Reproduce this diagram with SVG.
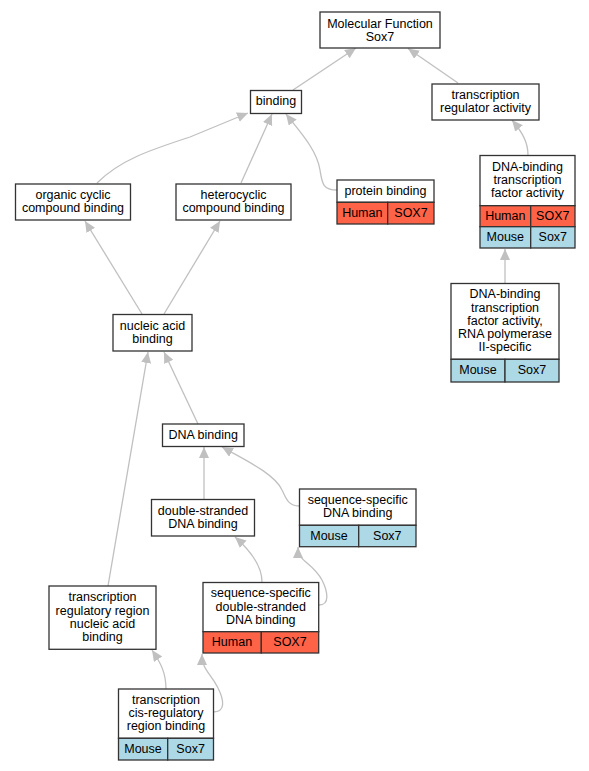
<svg xmlns="http://www.w3.org/2000/svg" width="589" height="771" viewBox="0 0 589 771">
<style>
.n{fill:#fff;stroke:#333;stroke-width:1.3}
.h{fill:#ff6347;stroke:#333;stroke-width:1.3}
.m{fill:#add8e6;stroke:#333;stroke-width:1.3}
text{font-family:"Liberation Sans",Arial,sans-serif;font-size:12.5px;text-anchor:middle;fill:#000}
.e{fill:none;stroke:#c0c0c0;stroke-width:1.3;marker-end:url(#a)}
</style>
<defs>
<marker id="a" markerUnits="userSpaceOnUse" markerWidth="12" markerHeight="11" refX="11" refY="5" orient="auto">
<path d="M0,0 L11,5 L0,10 z" fill="#c0c0c0"/>
</marker>
</defs>
<rect width="589" height="771" fill="#fff"/>
<g id="edges">
<path class="e" d="M293,90 L356,48"/>
<path class="e" d="M458,83 L408,48.5"/>
<path class="e" d="M528,155 C528,142 522,132 512,120"/>
<path class="e" d="M337,190 C322,190 322,182 320,170 C317,150 300,132 286,114"/>
<path class="e" d="M241,183 L272,114"/>
<path class="e" d="M97,183 C120,160 150,150 190,137 L248,113"/>
<path class="e" d="M142,314 L85,221"/>
<path class="e" d="M164,314 L220,221"/>
<path class="e" d="M198,424 L164,352"/>
<path class="e" d="M108,586 L148,352"/>
<path class="e" d="M204,499 L204,447"/>
<path class="e" d="M299,506 C288,506 286,498 282,490 C275,474 245,460 222,447"/>
<path class="e" d="M262,582 C262,566 252,552 235,537"/>
<path class="e" d="M319,605 C330,605 328,592 322,580 C312,562 298,562 298,547"/>
<path class="e" d="M166,689 C166,672 160,662 152,650"/>
<path class="e" d="M213,712 C226,712 224,700 218,688 C210,672 202,670 202,654"/>
<path class="e" d="M505,283 L505,249"/>
</g>
<g id="mf">
<rect class="n" x="320" y="12" width="120" height="36"/>
<text x="380" y="27.5">Molecular Function</text>
<text x="380" y="40.8">Sox7</text>
</g>
<g id="binding">
<rect class="n" x="250.5" y="90.5" width="51" height="23"/>
<text x="276" y="105.3">binding</text>
</g>
<g id="tra">
<rect class="n" x="432" y="84" width="107" height="36"/>
<text x="485.5" y="98.9">transcription</text>
<text x="485.5" y="112.2">regulator activity</text>
</g>
<g id="protein">
<rect class="n" x="337" y="180" width="97" height="22.3"/>
<rect class="h" x="337" y="202.3" width="50.7" height="21.7"/>
<rect class="h" x="387.7" y="202.3" width="46.3" height="21.7"/>
<text x="385.5" y="194.7">protein binding</text>
<text x="362.3" y="216.8">Human</text>
<text x="411" y="216.8">SOX7</text>
</g>
<g id="dbtf">
<rect class="n" x="480" y="155.5" width="95" height="50.2"/>
<rect class="h" x="480" y="205.7" width="50.7" height="21"/>
<rect class="h" x="530.7" y="205.7" width="44.3" height="21"/>
<rect class="m" x="480" y="226.7" width="50.7" height="21.3"/>
<rect class="m" x="530.7" y="226.7" width="44.3" height="21.3"/>
<text x="527.5" y="170.5">DNA-binding</text>
<text x="527.5" y="183.8">transcription</text>
<text x="527.5" y="197.1">factor activity</text>
<text x="505.3" y="220">Human</text>
<text x="552.8" y="220">SOX7</text>
<text x="505.3" y="241.3">Mouse</text>
<text x="552.8" y="241.3">Sox7</text>
</g>
<g id="organic">
<rect class="n" x="15.5" y="184" width="115" height="36"/>
<text x="73" y="198.9">organic cyclic</text>
<text x="73" y="212.2">compound binding</text>
</g>
<g id="hetero">
<rect class="n" x="176" y="184" width="115" height="36"/>
<text x="233.5" y="198.9">heterocyclic</text>
<text x="233.5" y="212.2">compound binding</text>
</g>
<g id="nucleic">
<rect class="n" x="113" y="314.5" width="79" height="36.5"/>
<text x="152.5" y="329.5">nucleic acid</text>
<text x="152.5" y="342.8">binding</text>
</g>
<g id="rnapol">
<rect class="n" x="451" y="283.5" width="108" height="75.8"/>
<rect class="m" x="451" y="359.3" width="54" height="22.7"/>
<rect class="m" x="505" y="359.3" width="54" height="22.7"/>
<text x="505" y="298.2">DNA-binding</text>
<text x="505" y="311.5">transcription</text>
<text x="505" y="324.8">factor activity,</text>
<text x="505" y="338.1">RNA polymerase</text>
<text x="505" y="351.4">II-specific</text>
<text x="478" y="374.2">Mouse</text>
<text x="532" y="374.2">Sox7</text>
</g>
<g id="dna">
<rect class="n" x="162.5" y="424" width="81.5" height="22.5"/>
<text x="203.2" y="438.7">DNA binding</text>
</g>
<g id="ds">
<rect class="n" x="151.5" y="499.5" width="103" height="36.5"/>
<text x="203" y="514.5">double-stranded</text>
<text x="203" y="527.8">DNA binding</text>
</g>
<g id="ssdna">
<rect class="n" x="299.5" y="489" width="116.5" height="36.3"/>
<rect class="m" x="299.5" y="525.3" width="59.2" height="21.4"/>
<rect class="m" x="358.7" y="525.3" width="57.3" height="21.4"/>
<text x="357.7" y="504">sequence-specific</text>
<text x="357.7" y="517.3">DNA binding</text>
<text x="329" y="539.8">Mouse</text>
<text x="387.3" y="539.8">Sox7</text>
</g>
<g id="ssds">
<rect class="n" x="203" y="582.5" width="115.7" height="49.2"/>
<rect class="h" x="203" y="631.7" width="58.3" height="21.3"/>
<rect class="h" x="261.3" y="631.7" width="57.4" height="21.3"/>
<text x="260.8" y="597.2">sequence-specific</text>
<text x="260.8" y="610.5">double-stranded</text>
<text x="260.8" y="623.8">DNA binding</text>
<text x="232" y="646">Human</text>
<text x="290" y="646">SOX7</text>
</g>
<g id="trr">
<rect class="n" x="49" y="586" width="107" height="63.3"/>
<text x="102.5" y="601.2">transcription</text>
<text x="102.5" y="614.5">regulatory region</text>
<text x="102.5" y="627.8">nucleic acid</text>
<text x="102.5" y="641.1">binding</text>
</g>
<g id="tcis">
<rect class="n" x="118.5" y="689" width="95" height="49.3"/>
<rect class="m" x="118.5" y="738.3" width="49.2" height="21.7"/>
<rect class="m" x="167.7" y="738.3" width="45.8" height="21.7"/>
<text x="166" y="703.7">transcription</text>
<text x="166" y="717">cis-regulatory</text>
<text x="166" y="730.3">region binding</text>
<text x="143" y="752.8">Mouse</text>
<text x="190.6" y="752.8">Sox7</text>
</g>
</svg>
